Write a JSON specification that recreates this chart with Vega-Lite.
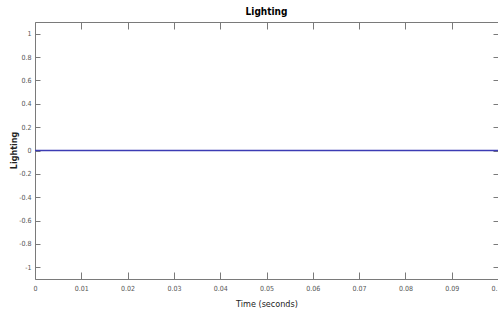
{
  "$schema": "https://vega.github.io/schema/vega-lite/v6.json",
  "autosize": "none",
  "width": 463,
  "height": 257,
  "padding": {"left": 35, "top": 22, "right": 0, "bottom": 34},
  "background": "white",
  "title": {"text": "Lighting", "font": "DejaVu Sans Condensed, Liberation Sans, sans-serif", "fontSize": 10, "fontWeight": "bold", "color": "#000", "offset": 5},
  "config": {"view": {"stroke": "#7a7a7a", "strokeWidth": 1}},
  "data": {"values": [
    {"t": 0, "v": 0}, {"t": 0.01, "v": 0}, {"t": 0.02, "v": 0}, {"t": 0.03, "v": 0},
    {"t": 0.04, "v": 0}, {"t": 0.05, "v": 0}, {"t": 0.06, "v": 0}, {"t": 0.07, "v": 0},
    {"t": 0.08, "v": 0}, {"t": 0.09, "v": 0}, {"t": 0.1, "v": 0}
  ]},
  "resolve": {"axis": {"x": "independent", "y": "independent"}},
  "layer": [
    {
      "mark": {"type": "line", "color": "#3c3cb4", "strokeWidth": 1.5},
      "encoding": {
        "x": {"field": "t", "type": "quantitative", "scale": {"domain": [0, 0.1], "nice": false},
          "axis": {"title": "Time (seconds)", "values": [0,0.01,0.02,0.03,0.04,0.05,0.06,0.07,0.08,0.09,0.1], "labelExpr": "datum.value == 0 ? '0' : format(datum.value, '.2f')",
            "grid": false, "domain": false, "tickSize": -7, "tickColor": "#7a7a7a", "labelPadding": 12,
            "labelFont": "DejaVu Sans Condensed, Liberation Sans, sans-serif", "labelFontSize": 7, "labelColor": "#555", "labelFlush": false,
            "titleFont": "DejaVu Sans Condensed, Liberation Sans, sans-serif", "titleFontSize": 9, "titleFontWeight": "normal", "titleColor": "#222", "titlePadding": 8}},
        "y": {"field": "v", "type": "quantitative", "scale": {"domain": [-1.1, 1.1], "nice": false, "zero": false},
          "axis": {"title": "Lighting", "values": [-1,-0.8,-0.6,-0.4,-0.2,0,0.2,0.4,0.6,0.8,1], "labelExpr": "replace(format(datum.value, '.1~f'), '\u2212', '-')",
            "grid": false, "domain": false, "tickSize": -5, "tickColor": "#7a7a7a", "labelPadding": 9,
            "labelFont": "DejaVu Sans Condensed, Liberation Sans, sans-serif", "labelFontSize": 7, "labelColor": "#555",
            "titleFont": "DejaVu Sans, sans-serif", "titleFontSize": 8, "titleFontWeight": "bold", "titleColor": "#222",
            "titleX": -21, "titleY": 128, "titleBaseline": "middle", "titleAlign": "center", "titleAngle": -90}}
      }
    },
    {
      "mark": {"type": "line", "opacity": 0},
      "encoding": {
        "x": {"field": "t", "type": "quantitative",
          "axis": {"orient": "top", "title": null, "labels": false, "values": [0,0.01,0.02,0.03,0.04,0.05,0.06,0.07,0.08,0.09,0.1], "grid": false, "domain": false, "tickSize": -7, "tickColor": "#7a7a7a"}},
        "y": {"field": "v", "type": "quantitative",
          "axis": {"orient": "right", "title": null, "labels": false, "values": [-1,-0.8,-0.6,-0.4,-0.2,0,0.2,0.4,0.6,0.8,1], "grid": false, "domain": false, "tickSize": -5, "tickColor": "#7a7a7a"}}
      }
    }
  ]
}
